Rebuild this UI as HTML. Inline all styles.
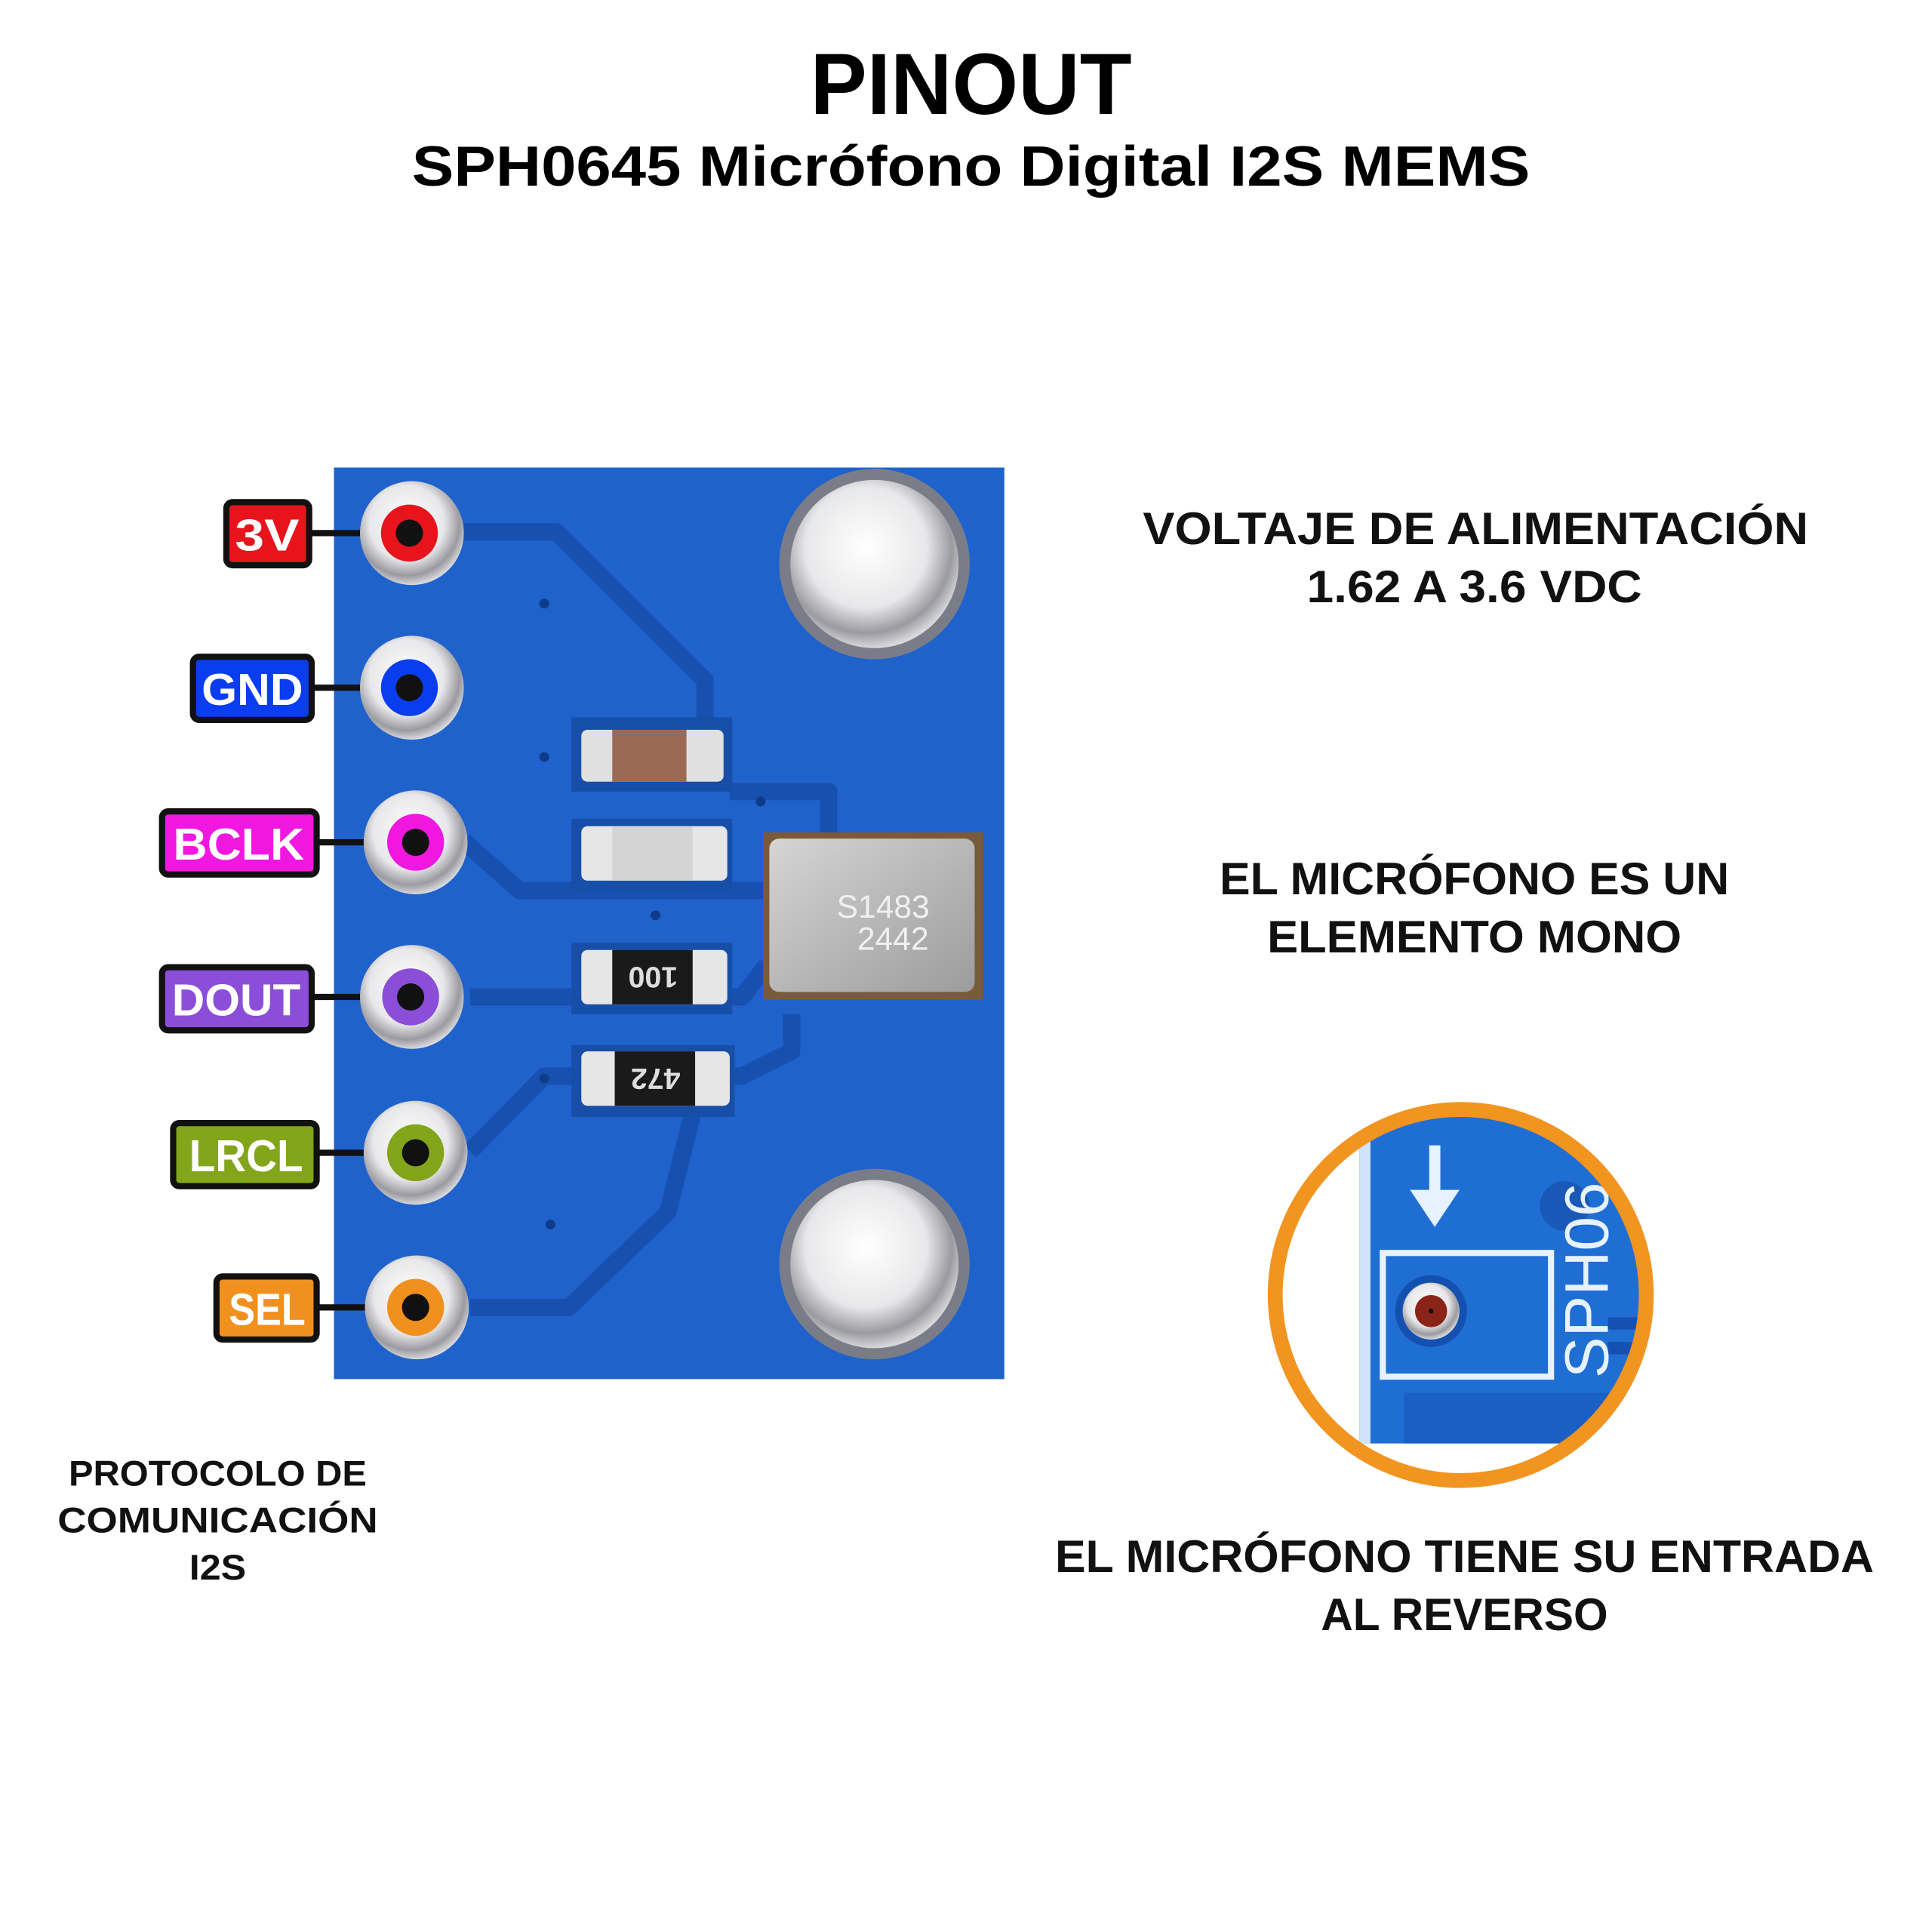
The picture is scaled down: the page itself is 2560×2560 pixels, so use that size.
<!DOCTYPE html>
<html><head><meta charset="utf-8"><style>
html,body{margin:0;padding:0;background:#fff;}
svg{display:block;}
text{font-family:"Liberation Sans","DejaVu Sans",sans-serif;font-weight:bold;}
</style></head><body>
<svg width="2560" height="2560" viewBox="0 0 1562 1562" xmlns="http://www.w3.org/2000/svg">
<defs>
<radialGradient id="silver" cx="45%" cy="40%" r="60%">
<stop offset="0" stop-color="#ffffff"/><stop offset="0.6" stop-color="#e8e8ea"/><stop offset="0.85" stop-color="#9a9aa0"/><stop offset="1" stop-color="#d8d8dc"/>
</radialGradient>
<linearGradient id="mic" x1="0" y1="0" x2="1" y2="1">
<stop offset="0" stop-color="#d5d5d5"/><stop offset="0.5" stop-color="#b8b8b8"/><stop offset="1" stop-color="#9c9c9c"/>
</linearGradient>
<clipPath id="cc"><circle cx="1181" cy="1047" r="146"/></clipPath>
</defs>
<rect width="1562" height="1562" fill="#fff"/>
<text x="785" y="92" font-size="70" text-anchor="middle" textLength="260" lengthAdjust="spacingAndGlyphs">PINOUT</text>
<text x="785" y="150" font-size="46" text-anchor="middle" textLength="904" lengthAdjust="spacingAndGlyphs">SPH0645 Micrófono Digital I2S MEMS</text>

<!-- board -->
<rect x="270" y="378" width="542" height="737" fill="#1f62cc"/>
<g fill="none" stroke="#1850b0" stroke-width="14" stroke-linejoin="round">
<path d="M375 430 L450 430 L570 550 L570 620"/>
<path d="M375 680 L420 720 L640 720 L660 690 L700 690"/>
<path d="M380 806 L600 806 L620 780"/>
<path d="M380 931 L440 870 L600 870 L640 850 L640 820"/>
<path d="M380 1057 L460 1057 L540 980 L560 900"/>
<path d="M590 640 L670 640 L670 700"/>
</g>
<g fill="#0d3c8a">
<circle cx="440" cy="488" r="4"/><circle cx="440" cy="612" r="4"/><circle cx="530" cy="740" r="4"/>
<circle cx="615" cy="648" r="4"/><circle cx="440" cy="872" r="4"/><circle cx="445" cy="990" r="4"/>
</g>
<!-- mounting holes -->
<circle cx="707" cy="456" r="77" fill="#7a7d88"/><circle cx="707" cy="456" r="68" fill="url(#silver)"/>
<circle cx="707" cy="1022" r="77" fill="#7a7d88"/><circle cx="707" cy="1022" r="68" fill="url(#silver)"/>
<!-- SMD parts -->
<g>
<rect x="462" y="580" width="130" height="60" fill="#174fa8"/>
<rect x="470" y="590" width="115" height="42" rx="5" fill="#e0e0e0"/><rect x="495" y="590" width="60" height="42" fill="#9a6a55"/>
<rect x="462" y="662" width="130" height="58" fill="#174fa8"/>
<rect x="470" y="668" width="118" height="44" rx="5" fill="#e6e6e6"/><rect x="495" y="668" width="65" height="44" fill="#d4d4d4"/>
<rect x="462" y="762" width="130" height="58" fill="#174fa8"/>
<rect x="470" y="768" width="118" height="44" rx="5" fill="#e6e6e6"/><rect x="495" y="768" width="65" height="44" fill="#1a1a1a"/>
<text x="528" y="802" font-size="24" fill="#ddd" text-anchor="middle" transform="rotate(180 528 792)">100</text>
<rect x="462" y="845" width="132" height="58" fill="#174fa8"/>
<rect x="470" y="850" width="120" height="44" rx="5" fill="#e6e6e6"/><rect x="497" y="850" width="65" height="44" fill="#1a1a1a"/>
<text x="530" y="884" font-size="24" fill="#ddd" text-anchor="middle" transform="rotate(180 530 874)">472</text>
</g>
<!-- mic -->
<rect x="617" y="673" width="178" height="135" fill="#7a5a3a"/>
<rect x="622" y="678" width="166" height="124" rx="8" fill="url(#mic)"/>
<text x="714" y="742" font-size="26" font-weight="normal" fill="#f0f0f0" text-anchor="middle" style="font-weight:normal">S1483</text>
<text x="722" y="768" font-size="26" fill="#f0f0f0" text-anchor="middle" style="font-weight:normal">2442</text>

<!-- pins -->
<g stroke="#111" stroke-width="5">
<line x1="250" y1="431" x2="333" y2="431"/>
<line x1="252" y1="556" x2="333" y2="556"/>
<line x1="256" y1="681" x2="335" y2="681"/>
<line x1="252" y1="806" x2="333" y2="806"/>
<line x1="256" y1="932" x2="335" y2="932"/>
<line x1="256" y1="1057" x2="335" y2="1057"/>
</g>
<g>
<circle cx="333" cy="431" r="42" fill="url(#silver)"/><circle cx="331" cy="431" r="23" fill="#e8141c"/><circle cx="331" cy="431" r="11" fill="#111"/>
<circle cx="333" cy="556" r="42" fill="url(#silver)"/><circle cx="331" cy="556" r="23" fill="#0b3df0"/><circle cx="331" cy="556" r="11" fill="#111"/>
<circle cx="336" cy="681" r="42" fill="url(#silver)"/><circle cx="336" cy="681" r="23" fill="#f018e0"/><circle cx="336" cy="681" r="11" fill="#111"/>
<circle cx="333" cy="806" r="42" fill="url(#silver)"/><circle cx="332" cy="806" r="23" fill="#8a4ed8"/><circle cx="332" cy="806" r="11" fill="#111"/>
<circle cx="336" cy="932" r="42" fill="url(#silver)"/><circle cx="336" cy="932" r="23" fill="#82a51a"/><circle cx="336" cy="932" r="11" fill="#111"/>
<circle cx="337" cy="1057" r="42" fill="url(#silver)"/><circle cx="336" cy="1057" r="23" fill="#f0901e"/><circle cx="336" cy="1057" r="11" fill="#111"/>
</g>
<!-- labels -->
<g stroke="#111" stroke-width="5">
<rect x="183" y="406" width="67" height="51" rx="5" fill="#e8141c"/>
<rect x="156" y="531" width="96" height="51" rx="5" fill="#0b3df0"/>
<rect x="131" y="656" width="125" height="51" rx="5" fill="#f018e0"/>
<rect x="131" y="782" width="121" height="51" rx="5" fill="#8a4ed8"/>
<rect x="140" y="908" width="116" height="51" rx="5" fill="#82a51a"/>
<rect x="175" y="1032" width="81" height="51" rx="5" fill="#f0901e"/>
</g>
<g fill="#fff" font-size="36" text-anchor="middle">
<text x="216" y="445" textLength="52" lengthAdjust="spacingAndGlyphs">3V</text>
<text x="204" y="570" textLength="82" lengthAdjust="spacingAndGlyphs">GND</text>
<text x="193" y="695" textLength="106" lengthAdjust="spacingAndGlyphs">BCLK</text>
<text x="191" y="821" textLength="104" lengthAdjust="spacingAndGlyphs">DOUT</text>
<text x="199" y="947" textLength="92" lengthAdjust="spacingAndGlyphs">LRCL</text>
<text x="216" y="1071" textLength="62" lengthAdjust="spacingAndGlyphs">SEL</text>
</g>

<!-- right texts -->
<g font-size="37" text-anchor="middle" fill="#111">
<text x="1193" y="440" textLength="538" lengthAdjust="spacingAndGlyphs">VOLTAJE DE ALIMENTACIÓN</text>
<text x="1192" y="487" textLength="271" lengthAdjust="spacingAndGlyphs">1.62 A 3.6 VDC</text>
<text x="1192" y="723" textLength="412" lengthAdjust="spacingAndGlyphs">EL MICRÓFONO ES UN</text>
<text x="1192" y="770" textLength="335" lengthAdjust="spacingAndGlyphs">ELEMENTO MONO</text>
<text x="1184" y="1271" textLength="662" lengthAdjust="spacingAndGlyphs">EL MICRÓFONO TIENE SU ENTRADA</text>
<text x="1184" y="1318" textLength="232" lengthAdjust="spacingAndGlyphs">AL REVERSO</text>
</g>
<g font-size="29" text-anchor="middle" fill="#111">
<text x="176" y="1201" textLength="241" lengthAdjust="spacingAndGlyphs">PROTOCOLO DE</text>
<text x="176" y="1239" textLength="259" lengthAdjust="spacingAndGlyphs">COMUNICACIÓN</text>
<text x="176" y="1277" textLength="46" lengthAdjust="spacingAndGlyphs">I2S</text>
</g>

<!-- zoom circle -->
<g clip-path="url(#cc)">
<rect x="1020" y="880" width="330" height="330" fill="#fff"/>
<rect x="1099" y="895" width="250" height="272" fill="#1f6ed4"/>
<rect x="1099" y="895" width="9" height="272" fill="#cfe4f8"/>
<rect x="1135" y="1126" width="215" height="41" fill="#1a60c4"/>
<path d="M1160 926 L1160 965" stroke="#e6f2ff" stroke-width="9"/>
<path d="M1140 962 L1180 962 L1160 992 Z" fill="#e6f2ff"/>
<rect x="1118" y="1013" width="136" height="100" fill="none" stroke="#e6f2ff" stroke-width="5"/>
<circle cx="1157" cy="1060" r="29" fill="#1450b0"/>
<circle cx="1157" cy="1060" r="23" fill="url(#silver)"/>
<circle cx="1157" cy="1060" r="13" fill="#8a2418"/>
<circle cx="1157" cy="1060" r="2" fill="#111"/>
<circle cx="1265" cy="975" r="20" fill="#1a58b8"/>
<path d="M1300 1070 L1350 1070 M1300 1090 L1350 1090" stroke="#1650b0" stroke-width="10"/>
<text x="1305" y="1040" font-size="50" fill="#e6f2ff" text-anchor="middle" transform="rotate(-90 1300 1040)" style="font-weight:normal">SPH06</text>
</g>
<circle cx="1181" cy="1047" r="150" fill="none" stroke="#f29420" stroke-width="12"/>
</svg>
</body></html>
